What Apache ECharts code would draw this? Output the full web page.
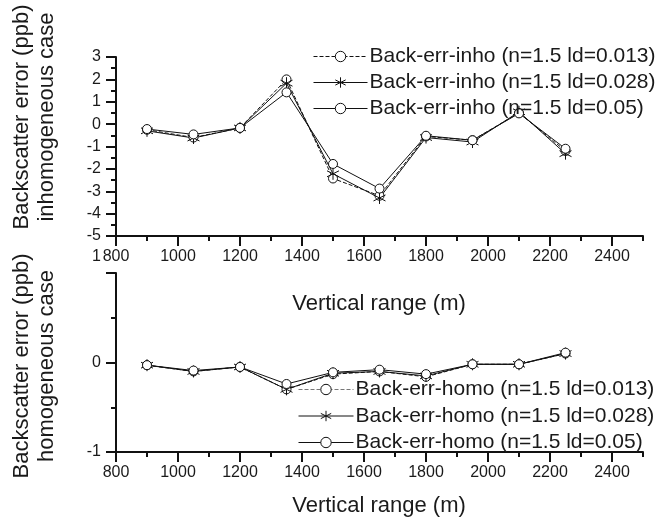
<!DOCTYPE html>
<html>
<head>
<meta charset="utf-8">
<script src="https://cdn.jsdelivr.net/npm/echarts@6/dist/echarts.min.js"></script>
<style>
html,body{margin:0;padding:0;background:#fff;}
#chart{width:671px;height:522px;}
</style>
</head>
<body>
<div id="chart"></div>
<script>
// ---- data ----
var ranges = [900, 1050, 1200, 1350, 1500, 1650, 1800, 1950, 2100, 2250];
var inho013 = [-0.25, -0.60, -0.17, 2.00, -2.43, -3.20, -0.55, -0.72, 0.50, -1.20];
var inho028 = [-0.30, -0.62, -0.17, 1.83, -2.22, -3.30, -0.60, -0.80, 0.55, -1.32];
var inho05  = [-0.22, -0.46, -0.17, 1.42, -1.78, -2.88, -0.52, -0.72, 0.48, -1.10];
var homo013 = [-0.03, -0.10, -0.05, -0.30, -0.13, -0.10, -0.16, -0.02, -0.02, 0.10];
var homo028 = [-0.03, -0.10, -0.05, -0.30, -0.12, -0.10, -0.15, -0.02, -0.02, 0.10];
var homo05  = [-0.03, -0.09, -0.05, -0.24, -0.11, -0.08, -0.13, -0.02, -0.02, 0.11];
var xMajorTicks = [800, 1000, 1200, 1400, 1600, 1800, 2000, 2200, 2400];
var namesInho = ['Back-err-inho (n=1.5 ld=0.013)', 'Back-err-inho (n=1.5 ld=0.028)', 'Back-err-inho (n=1.5 ld=0.05)'];
var namesHomo = ['Back-err-homo (n=1.5 ld=0.013)', 'Back-err-homo (n=1.5 ld=0.028)', 'Back-err-homo (n=1.5 ld=0.05)'];
var xTitle = 'Vertical range (m)';
var yTitleTop = 'Backscatter error (ppb)\ninhomogeneous case';
var yTitleBottom = 'Backscatter error (ppb)\nhomogeneous case';

// ---- chart ----
var FONT = 'Liberation Sans';
var INK = '#111';
var STAR = 'path://M10,0L10,20M1.34,5L18.66,15M1.34,15L18.66,5';

function pairs(ys) { return ranges.map(function (x, i) { return [x, ys[i]]; }); }

function mkSeries(name, ys, kind, xi, yi) {
  var dashed = kind === 'dash';
  var star = kind === 'star';
  return {
    name: name, type: 'line', xAxisIndex: xi, yAxisIndex: yi,
    data: pairs(ys),
    symbol: star ? STAR : 'circle',
    symbolSize: star ? 12 : 9,
    lineStyle: { color: INK, width: 1, type: dashed ? 'dashed' : 'solid' },
    itemStyle: { color: star ? INK : '#fff', borderColor: INK, borderWidth: 1 },
    emphasis: { disabled: true },
    animation: false
  };
}

var labelStyle = { fontSize: 16, fontFamily: FONT, color: '#1a1a1a' };

function mainX(gi) {
  return {
    type: 'value', gridIndex: gi, min: 800, max: 2500, interval: 100,
    axisLine: { show: true, onZero: false, lineStyle: { color: INK, width: 2 } },
    axisTick: { show: true, length: 5, lineStyle: { color: INK, width: 2 } },
    axisLabel: { show: false },
    splitLine: { show: false }
  };
}
function majorX(gi) {
  return {
    type: 'value', gridIndex: gi, min: 800, max: 2500, position: 'bottom',
    axisLine: { show: false, onZero: false },
    axisTick: { show: true, length: 10, customValues: xMajorTicks, lineStyle: { color: INK, width: 2 } },
    axisLabel: {
      show: true, customValues: xMajorTicks, margin: 13,
      fontSize: 16, fontFamily: FONT, color: '#1a1a1a',
      formatter: function (v) { return '{t|' + v + '}'; },
      rich: { t: labelStyle }
    },
    splitLine: { show: false }
  };
}
function yAx(gi, mn, mx, lift) {
  return {
    type: 'value', gridIndex: gi, min: mn, max: mx, interval: 1,
    axisLine: { show: true, onZero: false, lineStyle: { color: INK, width: 2 } },
    axisTick: { show: true, length: 10, lineStyle: { color: INK, width: 2 } },
    minorTick: { show: true, splitNumber: 2, length: 5, lineStyle: { color: INK, width: 2 } },
    axisLabel: {
      fontSize: 16, fontFamily: FONT, color: '#1a1a1a', margin: 15,
      formatter: function (v) { return (lift && v === mx) ? '{up|' + v + '}' : '{t|' + v + '}'; },
      rich: {
        t: labelStyle,
        up: { fontSize: 16, fontFamily: FONT, color: '#1a1a1a', padding: [0, 0, 32, 0] }
      }
    },
    splitLine: { show: false }
  };
}

var legendText = { fontSize: 21, fontFamily: FONT, color: '#1a1a1a', lineHeight: 21, padding: [0, 0, 0, -3] };

var chart = echarts.init(document.getElementById('chart'), null, { renderer: 'canvas' });
chart.setOption({
  backgroundColor: '#fff',
  animation: false,
  grid: [
    { left: 116, right: 28, top: 57, height: 179 },
    { left: 116, right: 28, top: 273, height: 179 }
  ],
  xAxis: [mainX(0), majorX(0), mainX(1), majorX(1)],
  yAxis: [yAx(0, -5, 3, false), yAx(1, -1, 1, true)],
  legend: [
    {
      data: namesInho, orient: 'vertical', left: 308, top: 41,
      itemWidth: 54, itemHeight: 13, itemGap: 5,
      itemStyle: { borderWidth: 1 }, lineStyle: { width: 1 },
      textStyle: legendText,
      selectedMode: false
    },
    {
      data: namesHomo.map(function (n, i) {
        return i === 0 ? { name: n, lineStyle: { color: '#777' } } : { name: n };
      }),
      orient: 'vertical', left: 293, top: 374,
      itemWidth: 55, itemHeight: 13, itemGap: 5.5,
      itemStyle: { borderWidth: 1 }, lineStyle: { width: 1 },
      textStyle: legendText,
      selectedMode: false
    }
  ],
  graphic: [
    { type: 'text', x: 379, y: 304, style: { text: xTitle, font: '22px ' + FONT, fill: '#1a1a1a', textAlign: 'center', textVerticalAlign: 'middle' } },
    { type: 'text', x: 379, y: 506, style: { text: xTitle, font: '22px ' + FONT, fill: '#1a1a1a', textAlign: 'center', textVerticalAlign: 'middle' } },
    { type: 'text', x: 34, y: 117, rotation: Math.PI / 2, style: { text: yTitleTop, font: '22px ' + FONT, fill: '#1a1a1a', textAlign: 'center', textVerticalAlign: 'middle', lineHeight: 25 } },
    { type: 'text', x: 34, y: 366, rotation: Math.PI / 2, style: { text: yTitleBottom, font: '22px ' + FONT, fill: '#1a1a1a', textAlign: 'center', textVerticalAlign: 'middle', lineHeight: 25 } }
  ],
  series: [
    mkSeries(namesInho[0], inho013, 'dash', 0, 0),
    mkSeries(namesInho[1], inho028, 'star', 0, 0),
    mkSeries(namesInho[2], inho05, 'circle', 0, 0),
    mkSeries(namesHomo[0], homo013, 'dash', 2, 1),
    mkSeries(namesHomo[1], homo028, 'star', 2, 1),
    mkSeries(namesHomo[2], homo05, 'circle', 2, 1)
  ]
});
</script>
</body>
</html>
